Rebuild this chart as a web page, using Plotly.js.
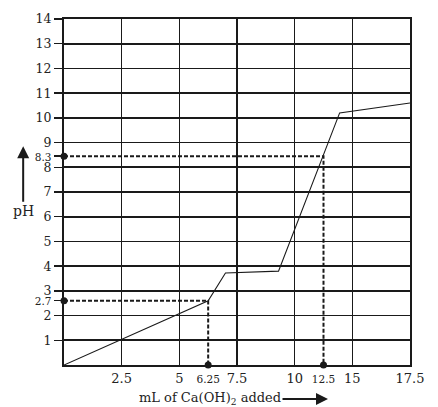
<!DOCTYPE html>
<html><head><meta charset="utf-8">
<script src="https://cdn.plot.ly/plotly-3.0.1.min.js"></script>
<style>html,body{margin:0;padding:0;background:#fff}#chart{width:438px;height:407px}</style>
</head><body><div id="chart"></div>
<script>
// Titration curve (x in the drawn grid's units, as the reference places them)
const curveX = [0, 6.25, 7.0, 9.3, 11.95, 15];
const curveY = [0, 2.6, 3.72, 3.8, 10.2, 10.6];
// Marked points: volume position and pH, as drawn
const markX = [6.25, 11.25];
const markPH = [2.6, 8.45];
// Grid of the drawing
const gridX = [2.5, 5, 7.5, 10, 12.5];
const gridY = [1,2,3,4,5,6,7,8,9,10,11,12,13];
// Tick labels as drawn
const xTickVals = [2.5, 5, 6.25, 7.5, 10, 11.25, 12.5, 15];
const xTickText = ['2.5','5','6.25','7.5','10','12.5','15','17.5'];
const yTickVals = [1,2,2.6,3,4,5,6,7,8,8.45,9,10,11,12,13,14];
const yTickText = ['1','2','2.7','3','4','5','6','7','8','8.3','9','10','11','12','13','14'];

const small = s => '<span style="font-size:10.5px">' + s + '</span>';
const xText = xTickText.map((t,i) => (markX.includes(xTickVals[i])) ? small(t) : t);
const yText = yTickText.map((t,i) => (markPH.includes(yTickVals[i])) ? small(t) : t);

const ink = '#1a1a1a';
const traces = [];
markX.forEach((mx, i) => {
  traces.push({x: [0, mx, mx], y: [markPH[i], markPH[i], 0], mode: 'lines', type: 'scatter',
    line: {color: ink, width: 2, dash: '4px,2px'}, hoverinfo: 'skip', cliponaxis: false});
});
traces.push({x: curveX, y: curveY, mode: 'lines', type: 'scatter', line: {color: ink, width: 1.1}});
traces.push({x: markX.concat(markX.map(() => 0)), y: markX.map(() => 0).concat(markPH),
  mode: 'markers', type: 'scatter', marker: {color: ink, size: 7}, cliponaxis: false});

const font = 'DejaVu Serif';
const layout = {
  width: 438, height: 407,
  margin: {l: 64, r: 28, t: 19, b: 42},
  paper_bgcolor: '#fff', plot_bgcolor: '#fff',
  showlegend: false,
  font: {family: font, color: '#222', size: 12.5},
  xaxis: {
    range: [0, 15], showgrid: false, zeroline: false,
    tickmode: 'array', tickvals: xTickVals, ticktext: xText, ticks: '',
    tickfont: {family: font, size: 13, color: '#222'},
    showline: true, mirror: true, linecolor: ink, linewidth: 2,
    minor: {tickmode: 'array', tickvals: gridX, showgrid: true, gridcolor: ink, gridwidth: 1.6, ticks: ''}
  },
  yaxis: {
    range: [0, 14], showgrid: false, zeroline: false,
    tickmode: 'array', tickvals: yTickVals, ticktext: yText,
    ticks: 'outside', ticklen: 8, tickwidth: 1.5, tickcolor: ink,
    tickfont: {family: font, size: 12.5, color: '#222'},
    showline: true, mirror: true, linecolor: ink, linewidth: 2,
    minor: {tickmode: 'array', tickvals: gridY, showgrid: true, gridcolor: ink, gridwidth: 1.6, ticks: ''}
  },
  annotations: [
    {text: 'pH', xref: 'paper', yref: 'paper', x: -0.118, y: 0.632, xanchor: 'center', yanchor: 'middle',
     showarrow: true, ax: 0, ay: 65, arrowhead: 2, arrowsize: 1.2, arrowwidth: 2, arrowcolor: ink,
     font: {family: font, size: 14, color: '#222'}},
    {text: 'mL of Ca(OH)<sub>2</sub> added', xref: 'paper', yref: 'paper', x: 0.763, y: -0.098,
     xanchor: 'center', yanchor: 'middle',
     showarrow: true, ax: -118, ay: 0, arrowhead: 2, arrowsize: 1.2, arrowwidth: 2, arrowcolor: ink,
     font: {family: font, size: 13, color: '#222'}}
  ]
};
Plotly.newPlot('chart', traces, layout, {staticPlot: true, displayModeBar: false});
</script></body></html>
